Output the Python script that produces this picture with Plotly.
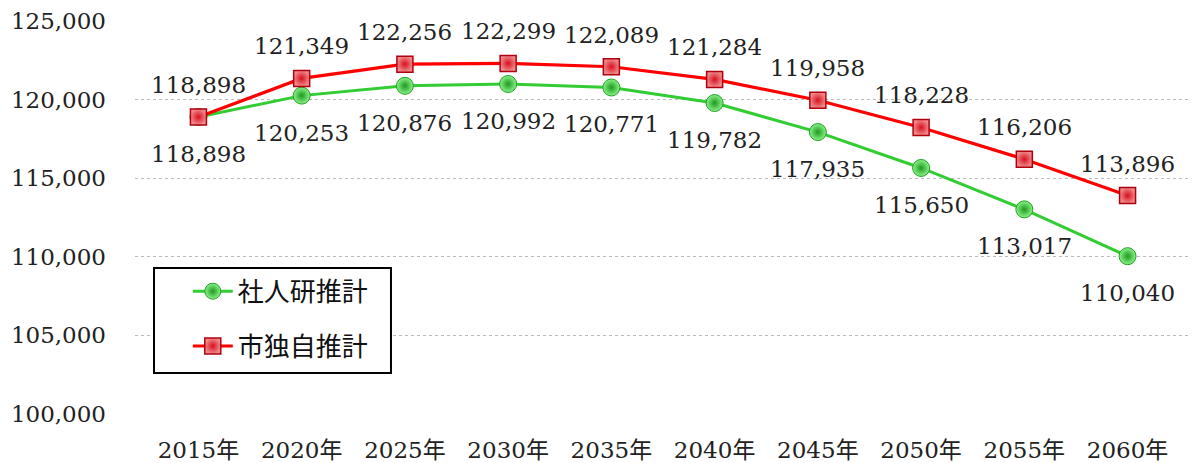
import plotly.graph_objects as go

years = ["2015年", "2020年", "2025年", "2030年", "2035年", "2040年", "2045年", "2050年", "2055年", "2060年"]
ipss = [118898, 120253, 120876, 120992, 120771, 119782, 117935, 115650, 113017, 110040]
city = [118898, 121349, 122256, 122299, 122089, 121284, 119958, 118228, 116206, 113896]
names = ["社人研推計", "市独自推計"]
y_ticks = [100000, 105000, 110000, 115000, 120000, 125000]

SERIF = "DejaVu Serif, Noto Sans CJK JP, serif"
SANS = "Noto Sans CJK JP, sans-serif"

fig = go.Figure()
fig.add_trace(go.Scatter(
    x=years, y=ipss, name=names[0], mode="lines+markers", legendgroup="g1",
    line=dict(color="#33cc33", width=3),
    marker=dict(symbol="circle", size=17, color="#8af28a",
                gradient=dict(type="radial", color="#1e9a1e"),
                line=dict(color="#23a023", width=1)),
))
fig.add_trace(go.Scatter(
    x=years, y=city, name=names[1], mode="lines+markers", legendgroup="g2",
    line=dict(color="#ff0000", width=3.2),
    marker=dict(symbol="square", size=16, color="#f08a8a",
                gradient=dict(type="radial", color="#d81020"),
                line=dict(color="#b00010", width=1.5)),
))

for x, v in zip(years, ipss):
    fig.add_annotation(x=x, y=v, text=f"{v:,}", showarrow=False, yshift=-37,
                       font=dict(family=SERIF, size=23, color="#222"))
for x, v in zip(years, city):
    fig.add_annotation(x=x, y=v, text=f"{v:,}", showarrow=False, yshift=32,
                       font=dict(family=SERIF, size=23, color="#222"))

# legend frame
fig.add_shape(type="rect", xref="paper", yref="paper",
              x0=0.018, x1=0.2424, y0=0.1043, y1=0.3715,
              fillcolor="white", line=dict(color="black", width=2), layer="above")

fig.update_layout(
    width=1197, height=463,
    margin=dict(l=135, r=6, t=21, b=49),
    paper_bgcolor="white", plot_bgcolor="white",
    showlegend=True,
    legend=dict(x=0.05, y=0.372, xanchor="left", yanchor="top",
                bgcolor="rgba(0,0,0,0)", borderwidth=0,
                font=dict(family=SANS, size=26, color="#111"),
                tracegroupgap=18, itemwidth=40),
)
fig.update_xaxes(
    type="category", showgrid=False, zeroline=False, showline=False,
    tickfont=dict(family=SERIF, size=23, color="#222"),
    ticks="", ticklabelstandoff=20, automargin=False,
)
fig.update_yaxes(
    range=[100000, 125000], tickvals=y_ticks,
    ticktext=[f"{v:,}" for v in y_ticks],
    showgrid=True, gridcolor="#bbbbbb", griddash="dot", gridwidth=1,
    zeroline=False, showline=False,
    tickfont=dict(family=SERIF, size=23, color="#222"),
    ticks="", ticklabelstandoff=28, automargin=False,
)

fig.write_html("out.html")
